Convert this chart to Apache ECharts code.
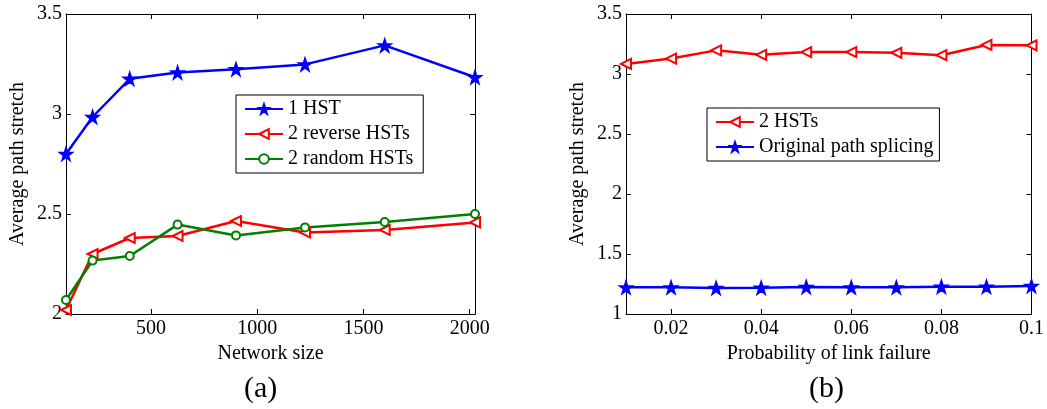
<!DOCTYPE html>
<html>
<head>
<meta charset="utf-8">
<script src="https://cdn.jsdelivr.net/npm/echarts@6/dist/echarts.min.js"></script>
<style>html,body{margin:0;padding:0;background:#fff;}#c{width:1047px;height:409px;}</style>
</head>
<body>
<div id="c"></div>
<script>
// Panel (a): network size
const sizesA = [100, 225, 400, 625, 900, 1225, 1600, 2025];
const hst1 = [2.80, 2.985, 3.176, 3.207, 3.224, 3.248, 3.343, 3.184];
const reverse2 = [2.02, 2.30, 2.38, 2.39, 2.465, 2.408, 2.42, 2.458];
const random2 = [2.07, 2.267, 2.29, 2.447, 2.393, 2.433, 2.46, 2.50];
const xTicksA = [500, 1000, 1500, 2000];
// Panel (b): probability of link failure
const probB = [0.01, 0.02, 0.03, 0.04, 0.05, 0.06, 0.07, 0.08, 0.09, 0.1];
const hsts2 = [3.084, 3.129, 3.197, 3.160, 3.183, 3.183, 3.177, 3.157, 3.242, 3.239];
const original = [1.222, 1.222, 1.217, 1.219, 1.225, 1.222, 1.222, 1.228, 1.228, 1.233];
const xTicksB = [0.02, 0.04, 0.06, 0.08, 0.1];

const FONT = 'Liberation Serif';
const STAR = 'path://M50,0L61.8,35.1L97.6,35.1L68.5,56.7L79.4,90.9L50,69.4L20.6,90.9L31.5,56.7L2.4,35.1L38.2,35.1Z';
const zip = (xs, ys) => xs.map((x, i) => [x, ys[i]]);

function xAx(gi, min, max, ticks, name, pos) {
  const main = pos === 'bottom';
  return {
    type: 'value', gridIndex: gi, position: pos, min: min, max: max,
    name: main ? name : '', nameLocation: 'middle', nameGap: 25,
    nameTextStyle: {fontFamily: FONT, fontSize: 20, color: '#000'},
    axisLine: {show: true, onZero: false, lineStyle: {color: '#000', width: 1}},
    axisTick: {show: true, inside: true, length: 5, customValues: ticks, lineStyle: {color: '#000'}},
    axisLabel: {show: main, customValues: ticks, margin: 5, fontFamily: FONT, fontSize: 20, color: '#000',
                formatter: v => String(v)},
    splitLine: {show: false}
  };
}
function yAx(gi, min, max, name, pos) {
  const main = pos === 'left';
  return {
    type: 'value', gridIndex: gi, position: pos, min: min, max: max, interval: 0.5,
    name: main ? name : '', nameLocation: 'middle', nameGap: 38,
    nameTextStyle: {fontFamily: FONT, fontSize: 20, color: '#000'},
    axisLine: {show: true, onZero: false, lineStyle: {color: '#000', width: 1}},
    axisTick: {show: true, inside: true, length: 5, lineStyle: {color: '#000'}},
    axisLabel: {show: main, margin: 4, fontFamily: FONT, fontSize: 20, color: '#000',
                formatter: v => String(v)},
    splitLine: {show: false}
  };
}
function line(name, xi, yi, data, color, symbol, size, rot) {
  return {
    name: name, type: 'line', xAxisIndex: xi, yAxisIndex: yi, data: data,
    symbol: symbol, symbolSize: size, symbolRotate: rot || 0, showSymbol: true,
    lineStyle: {color: color, width: 2.5}, itemStyle: {color: color, borderColor: color, borderWidth: 1.5},
    animation: false
  };
}

const chart = echarts.init(document.getElementById('c'), null, {renderer: 'canvas'});
chart.setOption({
  backgroundColor: '#fff',
  animation: false,
  grid: [
    {left: 66, top: 14, width: 409, height: 300},
    {left: 626, top: 14, width: 409, height: 300}
  ],
  xAxis: [
    xAx(0, 100, 2025, xTicksA, 'Network size', 'bottom'),
    xAx(0, 100, 2025, xTicksA, '', 'top'),
    xAx(1, 0.01, 0.1, xTicksB, 'Probability of link failure', 'bottom'),
    xAx(1, 0.01, 0.1, xTicksB, '', 'top')
  ],
  yAxis: [
    yAx(0, 2, 3.5, 'Average path stretch', 'left'),
    yAx(0, 2, 3.5, '', 'right'),
    yAx(1, 1, 3.5, 'Average path stretch', 'left'),
    yAx(1, 1, 3.5, '', 'right')
  ],
  legend: [
    {
      data: ['1 HST', '2 reverse HSTs', '2 random HSTs'],
      orient: 'vertical', left: 236, top: 95, width: 189,
      itemWidth: 38, itemHeight: 12, itemGap: 5,
      padding: [4, 10, 4, 8],
      borderColor: '#000', borderWidth: 1, backgroundColor: '#fff',
      textStyle: {fontFamily: FONT, fontSize: 20, color: '#000'}
    },
    {
      data: ['2 HSTs', 'Original path splicing'],
      orient: 'vertical', left: 707, top: 108,
      itemWidth: 38, itemHeight: 12, itemGap: 5,
      padding: [4, 6, 4, 8],
      borderColor: '#000', borderWidth: 1, backgroundColor: '#fff',
      textStyle: {fontFamily: FONT, fontSize: 20, color: '#000'}
    }
  ],
  series: [
    line('1 HST', 0, 0, zip(sizesA, hst1), '#0000ff', STAR, 13),
    line('2 reverse HSTs', 0, 0, zip(sizesA, reverse2), '#ff0000', 'emptyTriangle', 10, 90),
    line('2 random HSTs', 0, 0, zip(sizesA, random2), '#008000', 'emptyCircle', 8),
    line('2 HSTs', 2, 2, zip(probB, hsts2), '#ff0000', 'emptyTriangle', 10, 90),
    line('Original path splicing', 2, 2, zip(probB, original), '#0000ff', STAR, 13)
  ],
  graphic: [
    {type: 'text', left: 244, top: 374, style: {text: '(a)', font: '30px "Liberation Serif"', fill: '#000'}},
    {type: 'text', left: 809, top: 374, style: {text: '(b)', font: '30px "Liberation Serif"', fill: '#000'}}
  ]
});
</script>
</body>
</html>
